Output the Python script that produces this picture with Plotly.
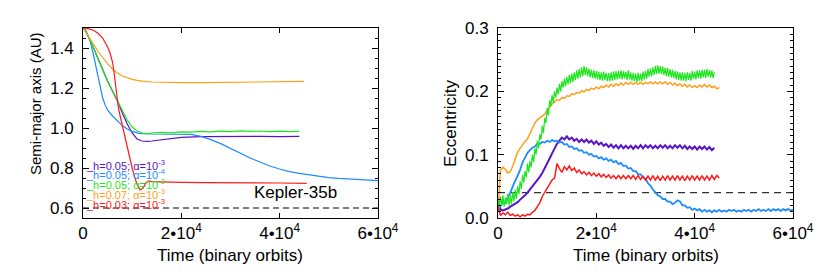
import plotly.graph_objects as go

# ---------------- data ----------------
LABELS = ["_h=0.05; α=10<sup>-3</sup>", "_h=0.05; α=10<sup>-4</sup>", "_h=0.05; α=10<sup>-2</sup>",
          "_h=0.07; α=10<sup>-3</sup>", "_h=0.03; α=10<sup>-3</sup>"]
COLORS = ["#5a14c8", "#1e8cff", "#1ee61e", "#ff9f1a", "#ff1a1a"]

X_TICKS = [0, 20000, 40000, 60000]
X_TICKTEXT = ["0", "2•10<sup>4</sup>", "4•10<sup>4</sup>", "6•10<sup>4</sup>"]
A_TICKS = [0.6, 0.8, 1.0, 1.2, 1.4]
E_TICKS = [0.0, 0.1, 0.2, 0.3]
KEPLER_A = 0.6
KEPLER_E = 0.04

# semi-major axis (AU)
T_A_PURPLE = [0, 500, 1000, 2000, 3000, 4000, 5000, 6000, 7000, 8000, 9000, 10000, 11000, 12000,
              13000, 14000, 16000, 18000, 20000, 24000, 28000, 32000, 36000, 40000, 44000]
A_PURPLE = [1.5, 1.485, 1.46, 1.41, 1.35, 1.29, 1.235, 1.185, 1.135, 1.075, 1.02, 0.975, 0.945, 0.935,
            0.933, 0.935, 0.942, 0.948, 0.953, 0.957, 0.958, 0.957, 0.958, 0.957, 0.958]

T_A_BLUE = [0, 500, 1000, 1500, 2000, 2500, 3000, 3500, 4000, 4500, 5000, 6000, 7000, 8000, 9000,
            10000, 11000, 12000, 14000, 16000, 18000, 20000, 22000, 24000, 26000, 28000, 30000,
            32000, 34000, 36000, 38000, 40000, 42000, 44000, 46000, 48000, 50000, 52000, 54000,
            56000, 58000, 60000]
A_BLUE = [1.5, 1.49, 1.465, 1.43, 1.38, 1.32, 1.26, 1.2, 1.15, 1.115, 1.09, 1.06, 1.035, 1.012, 0.995,
          0.983, 0.976, 0.972, 0.97, 0.97, 0.971, 0.971, 0.968, 0.958, 0.942, 0.922, 0.898,
          0.873, 0.85, 0.83, 0.81, 0.795, 0.782, 0.773, 0.765, 0.758, 0.752, 0.748, 0.745,
          0.742, 0.739, 0.737]

T_A_GREEN = [0, 500, 1000, 2000, 3000, 4000, 5000, 6000, 7000, 8000, 9000, 10000, 11000, 12000,
             13000, 14000, 16000, 18000, 20000, 22000, 24000, 26000, 28000, 30000, 32000, 34000,
             36000, 38000, 40000, 42000, 44000]
A_GREEN = [1.5, 1.485, 1.46, 1.41, 1.35, 1.29, 1.235, 1.185, 1.135, 1.085, 1.04, 1.005, 0.985, 0.975,
           0.972, 0.975, 0.978, 0.976, 0.981, 0.979, 0.983, 0.981, 0.984, 0.982, 0.986, 0.983,
           0.985, 0.982, 0.984, 0.982, 0.983]

T_A_ORANGE = [0, 500, 1000, 2000, 3000, 4000, 5000, 6000, 7000, 8000, 9000, 10000, 11000, 12000,
              14000, 16000, 20000, 25000, 30000, 35000, 40000, 45000]
A_ORANGE = [1.5, 1.482, 1.462, 1.425, 1.385, 1.352, 1.322, 1.295, 1.275, 1.26, 1.25, 1.243, 1.238,
            1.234, 1.23, 1.228, 1.227, 1.227, 1.228, 1.23, 1.231, 1.233]

T_A_RED = [0, 1000, 2000, 3000, 4000, 4500, 5000, 5500, 6000, 6300, 6600, 6800, 7200, 7600, 8000,
           8500, 9000, 9500, 10000, 10500, 11000, 11600, 12200, 12800, 13400, 14000, 16000, 20000,
           25000, 30000, 35000, 40000, 45500]
A_RED = [1.5, 1.497, 1.49, 1.475, 1.45, 1.43, 1.405, 1.375, 1.33, 1.28, 1.22, 1.15, 1.1, 1.055, 1.01,
         0.955, 0.9, 0.85, 0.8, 0.755, 0.718, 0.69, 0.7, 0.725, 0.735, 0.732, 0.73, 0.728,
         0.727, 0.727, 0.726, 0.725, 0.723]

# eccentricity, sampled every 500 (or 250) binary orbits
T_E_44 = list(range(0, 44001, 500))
T_E_44_FINE = list(range(0, 44001, 250))
T_E_45 = list(range(0, 45001, 500))
T_E_60 = list(range(0, 60001, 500))

E_PURPLE = [0.030, 0.013, 0.012, 0.013, 0.015, 0.018, 0.020, 0.023, 0.025, 0.029,
            0.032, 0.036, 0.040, 0.045, 0.049, 0.054, 0.059, 0.065, 0.071, 0.078,
            0.085, 0.094, 0.102, 0.110, 0.117, 0.122, 0.127, 0.124, 0.129, 0.124,
            0.127, 0.122, 0.125, 0.120, 0.124, 0.120, 0.124, 0.119, 0.122, 0.117,
            0.121, 0.116, 0.119, 0.114, 0.117, 0.112, 0.116, 0.111, 0.115, 0.110,
            0.115, 0.110, 0.114, 0.110, 0.114, 0.109, 0.114, 0.110, 0.115, 0.110,
            0.115, 0.111, 0.115, 0.110, 0.114, 0.110, 0.115, 0.111, 0.115, 0.110,
            0.114, 0.110, 0.115, 0.111, 0.115, 0.110, 0.114, 0.109, 0.113, 0.109,
            0.113, 0.108, 0.113, 0.109, 0.113, 0.108, 0.112, 0.107, 0.111]

E_BLUE = [0.020, 0.018, 0.025, 0.024, 0.033, 0.040, 0.050, 0.058, 0.068, 0.076,
          0.088, 0.096, 0.103, 0.107, 0.111, 0.113, 0.117, 0.117, 0.120, 0.119,
          0.122, 0.120, 0.123, 0.121, 0.122, 0.119, 0.120, 0.116, 0.117, 0.112,
          0.113, 0.109, 0.110, 0.106, 0.107, 0.103, 0.104, 0.100, 0.101, 0.097,
          0.098, 0.094, 0.096, 0.092, 0.094, 0.090, 0.092, 0.088, 0.090, 0.085,
          0.087, 0.082, 0.083, 0.078, 0.079, 0.074, 0.074, 0.069, 0.069, 0.064,
          0.062, 0.055, 0.051, 0.045, 0.041, 0.036, 0.034, 0.030, 0.030, 0.026,
          0.026, 0.022, 0.024, 0.028, 0.026, 0.020, 0.020, 0.016, 0.017, 0.013,
          0.015, 0.012, 0.014, 0.010, 0.013, 0.010, 0.012, 0.009, 0.012, 0.010,
          0.013, 0.010, 0.012, 0.010, 0.013, 0.011, 0.013, 0.010, 0.012, 0.010,
          0.013, 0.011, 0.013, 0.010, 0.013, 0.011, 0.014, 0.011, 0.013, 0.011,
          0.014, 0.011, 0.014, 0.012, 0.014, 0.011, 0.014, 0.012, 0.014, 0.012,
          0.013]

E_GREEN = [0.030, 0.016, 0.034, 0.020, 0.036, 0.018, 0.032, 0.022, 0.038, 0.020,
           0.036, 0.022, 0.041, 0.026, 0.044, 0.030, 0.050, 0.038, 0.058, 0.046,
           0.068, 0.056, 0.074, 0.064, 0.086, 0.072, 0.090, 0.080, 0.100, 0.088,
           0.110, 0.100, 0.122, 0.110, 0.132, 0.124, 0.146, 0.134, 0.158, 0.150,
           0.174, 0.162, 0.186, 0.176, 0.194, 0.182, 0.200, 0.190, 0.206, 0.195,
           0.212, 0.200, 0.216, 0.206, 0.220, 0.208, 0.223, 0.211, 0.226, 0.213,
           0.228, 0.215, 0.230, 0.218, 0.233, 0.220, 0.235, 0.222, 0.238, 0.224,
           0.240, 0.226, 0.238, 0.224, 0.236, 0.222, 0.234, 0.221, 0.233, 0.220,
           0.232, 0.219, 0.231, 0.218, 0.230, 0.217, 0.231, 0.218, 0.229, 0.216,
           0.229, 0.216, 0.230, 0.217, 0.231, 0.218, 0.232, 0.219, 0.232, 0.220,
           0.233, 0.219, 0.232, 0.220, 0.231, 0.218, 0.233, 0.219, 0.230, 0.217,
           0.229, 0.216, 0.228, 0.215, 0.229, 0.217, 0.228, 0.216, 0.231, 0.219,
           0.232, 0.220, 0.235, 0.223, 0.236, 0.224, 0.238, 0.226, 0.240, 0.227,
           0.241, 0.228, 0.240, 0.227, 0.239, 0.226, 0.237, 0.224, 0.237, 0.223,
           0.235, 0.222, 0.234, 0.221, 0.232, 0.219, 0.231, 0.218, 0.230, 0.217,
           0.230, 0.217, 0.229, 0.216, 0.230, 0.218, 0.229, 0.217, 0.232, 0.220,
           0.231, 0.219, 0.233, 0.221, 0.233, 0.220, 0.234, 0.222, 0.234, 0.221,
           0.235, 0.223, 0.234, 0.222, 0.233, 0.221, 0.230]

E_ORANGE = [0.010, 0.076, 0.080, 0.077, 0.071, 0.073, 0.082, 0.093, 0.104, 0.110,
            0.116, 0.121, 0.125, 0.133, 0.142, 0.150, 0.155, 0.158, 0.160, 0.164,
            0.170, 0.175, 0.180, 0.183, 0.187, 0.186, 0.190, 0.189, 0.193, 0.192,
            0.196, 0.195, 0.198, 0.197, 0.201, 0.199, 0.203, 0.201, 0.205, 0.203,
            0.207, 0.204, 0.208, 0.206, 0.210, 0.207, 0.211, 0.208, 0.212, 0.209,
            0.213, 0.210, 0.214, 0.211, 0.214, 0.211, 0.214, 0.211, 0.214, 0.211,
            0.214, 0.212, 0.215, 0.212, 0.215, 0.212, 0.215, 0.212, 0.215, 0.211,
            0.214, 0.210, 0.213, 0.209, 0.212, 0.208, 0.211, 0.207, 0.210, 0.206,
            0.209, 0.206, 0.210, 0.207, 0.211, 0.207, 0.210, 0.206, 0.208, 0.204,
            0.206]

E_RED = [0.018, 0.004, 0.008, 0.005, 0.009, 0.004, 0.006, 0.003, 0.005, 0.002,
         0.005, 0.003, 0.006, 0.005, 0.009, 0.012, 0.018, 0.024, 0.034, 0.040,
         0.048, 0.053, 0.060, 0.063, 0.086, 0.078, 0.072, 0.081, 0.076, 0.082,
         0.075, 0.079, 0.072, 0.076, 0.070, 0.073, 0.068, 0.072, 0.067, 0.071,
         0.066, 0.070, 0.065, 0.069, 0.064, 0.068, 0.063, 0.067, 0.062, 0.067,
         0.062, 0.067, 0.062, 0.067, 0.062, 0.067, 0.061, 0.067, 0.061, 0.066,
         0.060, 0.066, 0.060, 0.067, 0.060, 0.066, 0.059, 0.066, 0.060, 0.067,
         0.060, 0.066, 0.060, 0.067, 0.060, 0.066, 0.059, 0.066, 0.060, 0.067,
         0.060, 0.066, 0.060, 0.067, 0.060, 0.066, 0.060, 0.067, 0.061, 0.067,
         0.063]

# ---------------- figure ----------------
FONT = "Liberation Sans, Arial, sans-serif"
OFF = 8                      # page margin of the html body
W, H = 830 - OFF, 277 - OFF  # figure size so that it fills the window
L1, R1, L2, R2, TOP, BOT = 83, 378, 498, 793, 28, 218


def px(x):
    return (x - OFF) / W


def py(y):
    return 1 - (y - OFF) / H


fig = go.Figure()

a_series = [(T_A_PURPLE, A_PURPLE), (T_A_BLUE, A_BLUE), (T_A_GREEN, A_GREEN),
            (T_A_ORANGE, A_ORANGE), (T_A_RED, A_RED)]
e_series = [(T_E_44, E_PURPLE), (T_E_60, E_BLUE), (T_E_45, E_ORANGE), (T_E_44_FINE, E_GREEN),
            (T_E_45, E_RED)]
e_colors = [COLORS[0], COLORS[1], COLORS[3], COLORS[2], COLORS[4]]
e_widths = [2.0, 1.8, 1.5, 1.2, 1.5]

fig.add_trace(go.Scatter(x=[X_TICKS[0], X_TICKS[-1]], y=[KEPLER_A, KEPLER_A], mode="lines",
                         line=dict(color="black", width=1, dash="6px,4px"), xaxis="x", yaxis="y",
                         showlegend=False))
for (t, v), c in zip(a_series, COLORS):
    fig.add_trace(go.Scatter(x=t, y=v, mode="lines", line=dict(color=c, width=1.2),
                             xaxis="x", yaxis="y", showlegend=False))

fig.add_trace(go.Scatter(x=[X_TICKS[0], X_TICKS[-1]], y=[KEPLER_E, KEPLER_E], mode="lines",
                         line=dict(color="#333333", width=1.2, dash="7px,5px"), xaxis="x2", yaxis="y2",
                         showlegend=False))
for (t, v), c, w in zip(e_series, e_colors, e_widths):
    fig.add_trace(go.Scatter(x=t, y=v, mode="lines", line=dict(color=c, width=w),
                             xaxis="x2", yaxis="y2", showlegend=False))

common_x = dict(range=[X_TICKS[0], X_TICKS[-1]], tickvals=X_TICKS, ticktext=X_TICKTEXT,
                ticks="inside", ticklen=5, tickcolor="black", showline=True, linecolor="black",
                linewidth=1, mirror="allticks", showgrid=False, zeroline=False, automargin=False,
                tickfont=dict(family=FONT, size=17, color="black"))
common_y = dict(ticks="inside", ticklen=6, tickcolor="black", showline=True, linecolor="black",
                linewidth=1, mirror="allticks", showgrid=False, zeroline=False, tickformat=".1f",
                automargin=False, ticklabelstandoff=5,
                tickfont=dict(family=FONT, size=17, color="black"))

fig.update_layout(
    width=W, height=H, margin=dict(l=0, r=0, t=0, b=0, pad=0), autosize=False,
    paper_bgcolor="white", plot_bgcolor="white", showlegend=False,
    xaxis=dict(domain=[px(L1), px(R1)], anchor="y", **common_x),
    yaxis=dict(domain=[py(BOT), py(TOP)], anchor="x", range=[0.55, 1.5], tickvals=A_TICKS,
               minor=dict(dtick=0.05, tick0=0.6, ticks="inside", ticklen=3, tickcolor="black"),
               **common_y),
    xaxis2=dict(domain=[px(L2), px(R2)], anchor="y2", **common_x),
    yaxis2=dict(domain=[py(BOT), py(TOP)], anchor="x2", range=[0.0, 0.3], tickvals=E_TICKS,
                minor=dict(dtick=0.01, tick0=0, ticks="inside", ticklen=3, tickcolor="black"),
                **common_y),
)

ann = []
# legend texts
leg_y = [164.5, 174.3, 184, 194, 203.5]
for lab, c, yy in zip(LABELS, COLORS, leg_y):
    ann.append(dict(x=px(85), y=py(yy), xref="paper", yref="paper", text=lab, showarrow=False,
                    xanchor="left", yanchor="middle", borderpad=0,
                    font=dict(family=FONT, size=11, color=c)))
# Kepler-35b label
ann.append(dict(x=34400, y=0.679, xref="x", yref="y", text="Kepler-35b", showarrow=False,
                xanchor="left", yanchor="middle", font=dict(family=FONT, size=17, color="black")))
# axis titles
ann.append(dict(x=px((L1 + R1) / 2), y=py(255), xref="paper", yref="paper",
                text="Time (binary orbits)", showarrow=False, xanchor="center", yanchor="middle",
                font=dict(family=FONT, size=17, color="black")))
ann.append(dict(x=px((L2 + R2) / 2), y=py(255), xref="paper", yref="paper",
                text="Time (binary orbits)", showarrow=False, xanchor="center", yanchor="middle",
                font=dict(family=FONT, size=17, color="black")))
ann.append(dict(x=px(35), y=py(104), xref="paper", yref="paper", text="Semi-major axis (AU)",
                textangle=-90, showarrow=False, xanchor="center", yanchor="middle",
                font=dict(family=FONT, size=15, color="black")))
ann.append(dict(x=px(451), y=py(123), xref="paper", yref="paper", text="Eccentricity",
                textangle=-90, showarrow=False, xanchor="center", yanchor="middle",
                font=dict(family=FONT, size=17, color="black")))
fig.update_layout(annotations=ann)

fig.write_html("out.html")
